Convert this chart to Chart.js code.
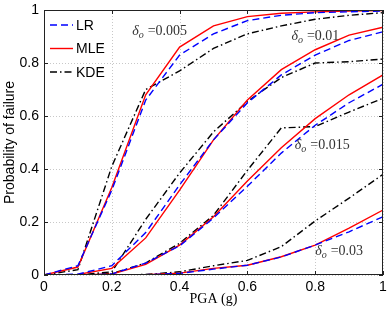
<!DOCTYPE html>
<html>
<head>
<meta charset="utf-8">
<script src="https://cdn.jsdelivr.net/npm/chart.js@4.4.1/dist/chart.umd.min.js"></script>
<style>
  html, body { margin: 0; padding: 0; background: #fff; }
  #wrap { width: 390px; height: 311px; }
</style>
</head>
<body>
<div id="wrap"><canvas id="pofChart"></canvas></div>
<script>
const pga = [0, 0.1, 0.2, 0.3, 0.4, 0.5, 0.6, 0.7, 0.8, 0.9, 1.0];
const xTicks = [0, 0.2, 0.4, 0.6, 0.8, 1];
const yTicks = [0, 0.2, 0.4, 0.6, 0.8, 1];

// delta_o = 0.005
const lr005 = [0, 0.035, 0.32, 0.66, 0.83, 0.91, 0.96, 0.98, 0.99, 0.993, 0.996];
const mle005 = [0, 0.03, 0.33, 0.68, 0.86, 0.94, 0.975, 0.988, 0.993, 0.996, 0.998];
const kde005 = [0, 0.02, 0.41, 0.70, 0.77, 0.855, 0.91, 0.94, 0.965, 0.98, 0.99];
// delta_o = 0.01
const lr01 = [0, 0.003, 0.035, 0.16, 0.34, 0.51, 0.65, 0.755, 0.83, 0.885, 0.918];
const mle01 = [0, 0.002, 0.025, 0.14, 0.32, 0.51, 0.66, 0.775, 0.85, 0.905, 0.935];
const kde01 = [0, 0, 0.012, 0.21, 0.385, 0.54, 0.655, 0.745, 0.80, 0.805, 0.815];
// delta_o = 0.015
const lr015 = [0, 0, 0.004, 0.045, 0.11, 0.215, 0.335, 0.46, 0.565, 0.65, 0.72];
const mle015 = [0, 0, 0.004, 0.04, 0.113, 0.22, 0.355, 0.48, 0.59, 0.68, 0.755];
const kde015 = [0, 0, 0.005, 0.045, 0.12, 0.225, 0.395, 0.555, 0.56, 0.615, 0.667];
// delta_o = 0.03
const lr03 = [0, 0, 0, 0.001, 0.006, 0.022, 0.037, 0.068, 0.113, 0.163, 0.22];
const mle03 = [0, 0, 0, 0.001, 0.007, 0.025, 0.037, 0.069, 0.113, 0.177, 0.245];
const kde03 = [0, 0, 0, 0.002, 0.012, 0.035, 0.055, 0.107, 0.204, 0.29, 0.38];

const methods = ['LR', 'MLE', 'KDE'];
const deltaLabels = ['0.005', '0.01', '0.015', '0.03'];
// where each delta label sits, in data units
const deltaPos = [[0.26, 0.905], [0.73, 0.885], [0.74, 0.475], [0.80, 0.075]];

const styles = {
    LR: { color: '#0000ff', dash: [7, 4] },
    MLE: { color: '#ff0000', dash: [] },
    KDE: { color: '#000000', dash: [7, 3, 1.5, 3] },
};

const groups = [
    [lr005, mle005, kde005],
    [lr01, mle01, kde01],
    [lr015, mle015, kde015],
    [lr03, mle03, kde03],
];

const datasets = [];
groups.forEach((g, gi) => {
    g.forEach((vals, mi) => {
        const m = methods[mi];
        datasets.push({
            label: m + ' ' + deltaLabels[gi],
            data: vals.map((v, i) => ({ x: pga[i], y: v })),
            borderColor: styles[m].color,
            borderDash: styles[m].dash,
            borderWidth: 1.4,
            pointRadius: 0,
            fill: false,
            tension: 0,
        });
    });
});

// dotted grid under the lines
const dottedGrid = {
    id: 'dottedGrid',
    beforeDatasetsDraw(chart) {
        const { ctx, chartArea: a, scales } = chart;
        ctx.save();
        ctx.strokeStyle = '#c8c8c8';
        ctx.lineWidth = 1;
        ctx.setLineDash([1, 2]);
        xTicks.forEach(t => {
            const px = Math.round(scales.x.getPixelForValue(t)) + 0.5;
            ctx.beginPath(); ctx.moveTo(px, a.top); ctx.lineTo(px, a.bottom); ctx.stroke();
        });
        yTicks.forEach(t => {
            const py = Math.round(scales.y.getPixelForValue(t)) + 0.5;
            ctx.beginPath(); ctx.moveTo(a.left, py); ctx.lineTo(a.right, py); ctx.stroke();
        });
        ctx.restore();
    }
};

const frameAndText = {
    id: 'frameAndText',
    afterDatasetsDraw(chart) {
        const { ctx, chartArea: a, scales } = chart;
        ctx.save();
        // box
        ctx.strokeStyle = '#222';
        ctx.lineWidth = 1;
        ctx.strokeRect(Math.round(a.left) + 0.5, Math.round(a.top) + 0.5,
            Math.round(a.right - a.left) - 1, Math.round(a.bottom - a.top) - 1);
        // inward ticks
        xTicks.forEach(t => {
            const px = Math.round(scales.x.getPixelForValue(t)) + 0.5;
            ctx.beginPath();
            ctx.moveTo(px, a.bottom); ctx.lineTo(px, a.bottom - 4);
            ctx.moveTo(px, a.top); ctx.lineTo(px, a.top + 4);
            ctx.stroke();
        });
        yTicks.forEach(t => {
            const py = Math.round(scales.y.getPixelForValue(t)) + 0.5;
            ctx.beginPath();
            ctx.moveTo(a.left, py); ctx.lineTo(a.left + 4, py);
            ctx.moveTo(a.right, py); ctx.lineTo(a.right - 4, py);
            ctx.stroke();
        });

        // legend
        const lx = a.left + 6, ly = a.top + 15;
        ctx.font = '14px "Liberation Sans", Arial, sans-serif';
        ctx.textBaseline = 'middle';
        methods.forEach((m, i) => {
            const y = ly + i * 23.5;
            ctx.strokeStyle = styles[m].color;
            ctx.setLineDash(styles[m].dash);
            ctx.lineWidth = 1.4;
            ctx.beginPath();
            ctx.moveTo(lx, y); ctx.lineTo(lx + 23, y);
            ctx.stroke();
            ctx.setLineDash([]);
            ctx.fillStyle = '#000';
            ctx.fillText(m, lx + 26, y + 1);
        });

        // delta annotations
        ctx.fillStyle = '#333';
        ctx.textBaseline = 'alphabetic';
        deltaLabels.forEach((d, i) => {
            let x = scales.x.getPixelForValue(deltaPos[i][0]);
            const y = scales.y.getPixelForValue(deltaPos[i][1]);
            ctx.font = 'italic 14px "Liberation Serif", "Times New Roman", serif';
            ctx.fillText('δ', x, y);
            x += ctx.measureText('δ').width;
            ctx.font = 'italic 10px "Liberation Serif", "Times New Roman", serif';
            ctx.fillText('o', x, y + 3);
            x += ctx.measureText('o').width + 4;
            ctx.font = '14px "Liberation Serif", "Times New Roman", serif';
            ctx.fillText('=' + d, x, y);
        });
        ctx.restore();
    }
};

const ctx = document.getElementById('pofChart').getContext('2d');
new Chart(ctx, {
    type: 'line',
    data: { datasets: datasets },
    options: {
        responsive: true,
        maintainAspectRatio: false,
        animation: false,
        layout: { padding: { top: 10, right: 7, left: 0, bottom: 0 } },
        plugins: { legend: { display: false }, tooltip: { enabled: false } },
        scales: {
            x: {
                type: 'linear',
                min: 0, max: 1,
                afterFit: s => { s.height = 36; s.paddingLeft = 0; s.paddingRight = 0; },
                afterBuildTicks: s => { s.ticks = xTicks.map(v => ({ value: v })); },
                ticks: { color: '#000', font: { family: '"Liberation Sans", Arial, sans-serif', size: 14 },
                    padding: 4, maxRotation: 0, callback: v => String(v) },
                grid: { display: false, drawTicks: false, tickLength: 0 },
                border: { display: false },
                title: { display: true, text: 'PGA (g)', color: '#000', padding: { top: 0, bottom: 3 },
                    font: { family: '"Liberation Serif", "Times New Roman", serif', size: 14 } },
            },
            y: {
                type: 'linear',
                min: 0, max: 1,
                afterFit: s => { s.width = 44; s.paddingTop = 0; s.paddingBottom = 0; },
                afterBuildTicks: s => { s.ticks = yTicks.map(v => ({ value: v })); },
                ticks: { color: '#000', font: { family: '"Liberation Sans", Arial, sans-serif', size: 14 },
                    padding: 5, callback: v => String(v) },
                grid: { display: false, drawTicks: false, tickLength: 0 },
                border: { display: false },
                title: { display: true, text: 'Probability of failure', color: '#000', padding: { top: 2, bottom: 0 },
                    font: { family: '"Liberation Sans", Arial, sans-serif', size: 14 } },
            },
        },
    },
    plugins: [dottedGrid, frameAndText],
});
</script>
</body>
</html>
